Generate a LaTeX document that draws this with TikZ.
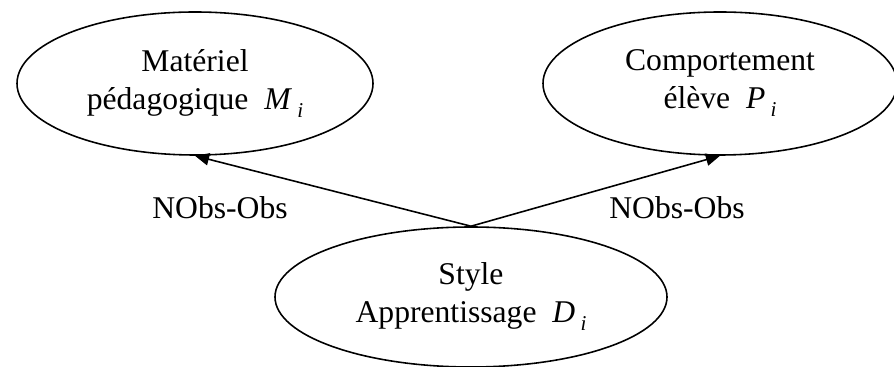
\documentclass[tikz,border=0pt]{standalone}
\usepackage{fontspec}
\setmainfont{Liberation Serif}
\usetikzlibrary{positioning,arrows.meta,shapes.geometric}
\newcommand{\vari}[2]{\textit{#1}\,\raisebox{-0.55ex}{\fontsize{12}{12}\selectfont\textit{#2}}}
\tikzset{
  etat/.style={ellipse,draw,line width=0.9pt,align=center,inner sep=0pt,minimum height=2.86cm},
  fleche/.style={-{Triangle[length=8pt,width=7pt]},line width=0.9pt},
  etiq/.style={draw=none,inner sep=0pt},
}
\begin{document}
\begin{tikzpicture}[font={\fontsize{18}{21.6}\selectfont}]
  \useasboundingbox (0,0) rectangle (17.88,7.34);
  \node[etat,minimum width=7.12cm] (mat) at (3.9,5.67) {Matériel\\pédagogique \ \vari{M}{i}};
  \node[etat,minimum width=7.08cm] (comp) at (14.4,5.67) {Comportement\\élève \ \vari{P}{i}};
  \node[etat,minimum width=7.84cm,minimum height=2.8cm] (style) at (9.42,1.40) {Style\\Apprentissage \ \vari{D}{i}};
  \draw[fleche] (style.north) -- (mat.south);
  \draw[fleche] (style.north) -- (comp.south);
  \node[etiq] (lg) at (4.4,3.18) {NObs-Obs};
  \node[etiq] (ld) at (13.54,3.18) {NObs-Obs};
\end{tikzpicture}
\end{document}
